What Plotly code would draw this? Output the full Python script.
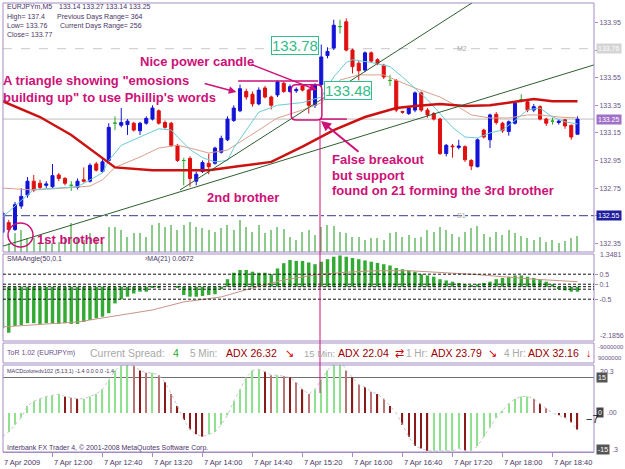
import plotly.graph_objects as go

# ---------------- data ----------------
bar_index = list(range(93))
time_tick_bars = [0, 8, 16, 24, 32, 40, 48, 56, 64, 72, 80, 88]
time_tick_labels = ["7 Apr 2009", "7 Apr 12:00", "7 Apr 12:40", "7 Apr 13:20", "7 Apr 14:00",
                    "7 Apr 14:40", "7 Apr 15:20", "7 Apr 16:00", "7 Apr 16:40", "7 Apr 17:20",
                    "7 Apr 18:00", "7 Apr 18:40"]

opens = [132.43, 132.50, 132.45, 132.62, 132.70, 132.80, 132.785, 132.77, 132.76, 132.845,
         132.82, 132.77, 132.755, 132.81, 132.80, 132.925, 132.87, 132.95, 133.22, 133.205,
         133.21, 133.22, 133.165, 133.22, 133.25, 133.31, 133.225, 133.22, 133.06, 132.95,
         132.965, 132.80, 132.87, 132.93, 132.93, 133.01, 133.10, 133.24, 133.31, 133.45,
         133.43, 133.36, 133.475, 133.41, 133.425, 133.51, 133.45, 133.455, 133.49, 133.46,
         133.35, 133.50, 133.71, 133.765, 133.92, 133.955, 133.75, 133.655, 133.605, 133.73,
         133.68, 133.64, 133.53, 133.53, 133.305, 133.29, 133.315, 133.44, 133.315, 133.29,
         133.25, 133.00, 133.055, 133.045, 133.05, 132.95, 132.905, 133.17, 133.10, 133.285,
         133.22, 133.16, 133.22, 133.39, 133.375, 133.315, 133.34, 133.25, 133.235, 133.225,
         133.245, 133.205, 133.14]
highs = [132.60, 132.52, 132.65, 132.75, 132.83, 132.845, 132.81, 132.80, 132.925, 132.86,
         132.83, 132.80, 132.82, 132.90, 132.93, 132.94, 132.96, 133.22, 133.27, 133.33,
         133.25, 133.23, 133.23, 133.27, 133.35, 133.32, 133.24, 133.23, 133.07, 132.97,
         132.98, 132.87, 132.95, 133.00, 133.05, 133.13, 133.27, 133.35, 133.50, 133.47,
         133.45, 133.48, 133.49, 133.42, 133.53, 133.52, 133.50, 133.48, 133.50, 133.47,
         133.51, 133.79, 133.77, 133.97, 133.97, 133.98, 133.76, 133.67, 133.74, 133.74,
         133.69, 133.65, 133.57, 133.54, 133.31, 133.34, 133.45, 133.45, 133.33, 133.30,
         133.26, 133.07, 133.07, 133.10, 133.06, 132.96, 133.11, 133.18, 133.29, 133.30,
         133.23, 133.24, 133.38, 133.43, 133.39, 133.36, 133.35, 133.26, 133.26, 133.25,
         133.25, 133.21, 133.27]
lows = [132.40, 132.43, 132.44, 132.60, 132.68, 132.72, 132.74, 132.75, 132.75, 132.80,
        132.77, 132.73, 132.74, 132.79, 132.79, 132.87, 132.86, 132.94, 133.17, 133.19,
        133.135, 133.16, 133.135, 133.21, 133.24, 133.21, 133.18, 133.05, 132.94, 132.77,
        132.76, 132.77, 132.86, 132.85, 132.92, 133.00, 133.09, 133.23, 133.30, 133.39,
        133.34, 133.35, 133.40, 133.32, 133.41, 133.44, 133.44, 133.44, 133.45, 133.29,
        133.33, 133.48, 133.69, 133.75, 133.87, 133.74, 133.58, 133.53, 133.59, 133.66,
        133.64, 133.54, 133.49, 133.30, 133.29, 133.28, 133.30, 133.30, 133.26, 133.24,
        132.99, 132.98, 132.97, 133.03, 132.94, 132.88, 132.90, 133.11, 133.04, 133.21,
        133.15, 133.13, 133.21, 133.37, 133.30, 133.30, 133.24, 133.20, 133.21, 133.21,
        133.18, 133.10, 133.14]
closes = [132.57, 132.45, 132.63, 132.69, 132.80, 132.735, 132.755, 132.78, 132.84, 132.82,
          132.785, 132.77, 132.80, 132.80, 132.915, 132.88, 132.94, 133.19, 133.22, 133.225,
          133.235, 133.17, 133.22, 133.255, 133.33, 133.22, 133.19, 133.06, 132.95, 132.95,
          132.82, 132.85, 132.935, 132.905, 133.04, 133.11, 133.25, 133.33, 133.47, 133.41,
          133.36, 133.46, 133.41, 133.35, 133.52, 133.45, 133.485, 133.465, 133.46, 133.35,
          133.50, 133.70, 133.74, 133.93, 133.92, 133.75, 133.63, 133.60, 133.73, 133.67,
          133.655, 133.555, 133.53, 133.315, 133.30, 133.33, 133.44, 133.315, 133.28, 133.25,
          133.00, 133.06, 133.05, 133.055, 132.955, 132.91, 133.10, 133.12, 133.28, 133.225,
          133.165, 133.23, 133.365, 133.39, 133.315, 133.34, 133.25, 133.22, 133.235, 133.235,
          133.20, 133.12, 133.25]
volumes = [12, 9, 19, 22, 14, 14, 10, 12, 9, 10,
           15, 29, 14, 12, 19, 15, 10, 25, 25, 22,
           15, 19, 19, 15, 27, 29, 25, 27, 22, 27,
           30, 25, 24, 22, 20, 24, 27, 22, 32, 25,
           20, 27, 19, 22, 25, 23, 15, 12, 20, 22,
           17, 25, 27, 26, 20, 19, 15, 15, 12, 14,
           14, 12, 19, 20, 15, 17, 14, 15, 22, 20,
           25, 22, 18, 15, 20, 24, 26, 18, 15, 20,
           17, 22, 19, 16, 14, 12, 15, 10, 12, 9,
           11, 14, 16]

ma_red_bars = [0, 6, 11, 16, 18, 24, 33, 38, 43, 48, 53, 58, 63, 66, 70, 74, 78, 82, 85, 88, 92]
ma_red_vals = [133.38, 133.265, 133.135, 132.97, 132.90, 132.88, 132.88, 132.91, 132.94, 133.05,
               133.17, 133.265, 133.33, 133.345, 133.36, 133.345, 133.35, 133.375, 133.395, 133.38, 133.38]
ma_cyan_bars = [0, 3, 5, 12, 16, 17, 19, 22, 25, 27, 28, 30, 32, 34, 36, 37, 39, 41, 44, 48,
                51, 53, 55, 56, 59, 62, 64, 66, 68, 70, 72, 74, 76, 78, 80, 82, 84, 86, 88, 90, 92]
ma_cyan_vals = [132.54, 132.66, 132.74, 132.76, 132.86, 132.95, 133.06, 133.12, 133.18, 133.17,
                133.12, 133.03, 132.97, 132.94, 132.95, 133.04, 133.17, 133.30, 133.35, 133.37,
                133.41, 133.555, 133.66, 133.68, 133.66, 133.63, 133.555, 133.475, 133.39, 133.29,
                133.19, 133.12, 133.113, 133.15, 133.17, 133.24, 133.316, 133.33, 133.265, 133.23, 133.215]
ma_salmon_bars = [0, 5, 10, 14, 16, 18, 22, 25, 28, 30, 33, 36, 41, 44, 48, 51, 54, 57, 61, 64,
                  66, 70, 73, 75, 78, 81, 84, 86, 89, 92]
ma_salmon_vals = [132.75, 132.736, 132.75, 132.765, 132.81, 132.90, 132.975, 133.04, 133.06, 133.04,
                  133.004, 133.026, 133.17, 133.258, 133.316, 133.367, 133.533, 133.57, 133.57, 133.51,
                  133.475, 133.41, 133.337, 133.28, 133.258, 133.258, 133.28, 133.28, 133.265, 133.258]

# trend lines: (bar0, price0, bar1, price1)
trend_lines = [(-0.4, 132.323, 94.6, 133.642), (28.4, 132.736, 75.1, 134.091)]
bid_price = 133.25
pivot_levels = {"M2": 133.76, "S1": 132.55}
price_ticks = [132.35, 132.55, 132.75, 132.95, 133.15, 133.35, 133.55, 133.75, 133.95]

sma_angle = [-1.66, -1.84, -1.57, -1.53, -1.46, -1.46, -1.49, -1.46, -1.46, -1.49,
             -1.46, -1.49, -1.49, -1.41, -1.33, -1.26, -1.20, -1.06, -0.67, -0.50,
             -0.40, -0.27, -0.20, -0.20, -0.05, -0.02, 0.0, 0.0, -0.02, -0.33,
             -0.40, -0.40, -0.37, -0.33, -0.30, -0.10, 0.30, 0.56, 0.67, 0.67,
             0.60, 0.56, 0.56, 0.50, 0.73, 0.94, 1.07, 1.03, 1.03, 0.97,
             0.90, 1.00, 1.10, 1.20, 1.25, 1.20, 1.15, 1.10, 1.05, 1.00,
             0.95, 0.90, 0.85, 0.75, 0.70, 0.65, 0.60, 0.50, 0.45, 0.40,
             0.30, 0.25, 0.20, 0.15, 0.10, 0.05, 0.10, 0.15, 0.20, 0.30,
             0.35, 0.40, 0.45, 0.45, 0.40, 0.35, 0.30, 0.20, 0.10, -0.10,
             -0.15, -0.20, -0.20]
sma_ma_bars = [0, 12, 24, 29, 35, 40, 45, 50, 55, 60, 65, 70, 75, 80, 85, 92]
sma_ma_vals = [-1.61, -1.41, -0.93, -0.61, -0.41, -0.05, 0.27, 0.47, 0.58, 0.64, 0.64, 0.58, 0.50, 0.40, 0.30, 0.20]
sma_levels = [0.5, 0.1, 0.0, -0.1, -0.5]
sma_ticks = [0.5, 0.1, -0.5]

macd = [-10, -8, -5, -2, 3, 5, 6, 7, 7.5, 8,
        7, 6.5, 6, 6, 7, 8, 10, 14, 18, 20,
        20.5, 20, 18, 17, 17, 16, 13, 8, 3, -3,
        -7, -9, -10, -9, -8, -5, -1, 5, 10, 15,
        18, 18.5, 17.5, 16, 16, 15.5, 15, 13, 10, 8,
        10, 14, 18, 21, 23, 18, 15, 12, 11, 9,
        8, 6, 3, 0, -5, -10, -14, -15, -16, -16,
        -16, -16, -16, -15, -16, -16, -14, -10, -6, -2,
        1, 4, 6, 7, 7, 6, 4, 2, 0, -1,
        -2, -4, -7]
macd_level = 15

# ---------------- helpers (pixel layout -> paper) ----------------
def py(px):
    return (452 - px) / 449.0

def pxx(px):
    return (px - 3) / 591.0

FONT = "Liberation Sans"
MAG = "#CC1177"
BORDER = "#A48BC4"
TXT = "#4A3566"
AXT = "#6A5488"

fig = go.Figure()

# volume
fig.add_trace(go.Bar(x=bar_index, y=volumes, yaxis="y5", width=0.18,
                     marker=dict(color="#8CCB8C", line=dict(width=0)), hoverinfo="skip"))
# moving averages
fig.add_trace(go.Scatter(x=ma_salmon_bars, y=ma_salmon_vals, mode="lines",
                         line=dict(color="#D9A08C", width=1), hoverinfo="skip"))
fig.add_trace(go.Scatter(x=ma_cyan_bars, y=ma_cyan_vals, mode="lines",
                         line=dict(color="#6CCBD6", width=1), hoverinfo="skip"))
fig.add_trace(go.Scatter(x=ma_red_bars, y=ma_red_vals, mode="lines",
                         line=dict(color="#CC1111", width=2.5), hoverinfo="skip"))

# candles
norm = [i for i in bar_index if opens[i] != closes[i]]
doji = [i for i in bar_index if opens[i] == closes[i]]
fig.add_trace(go.Candlestick(
    x=norm, open=[opens[i] for i in norm], high=[highs[i] for i in norm],
    low=[lows[i] for i in norm], close=[closes[i] for i in norm],
    increasing=dict(line=dict(color="#1414D8", width=1), fillcolor="#1414D8"),
    decreasing=dict(line=dict(color="#E01010", width=1), fillcolor="#E01010"),
    whiskerwidth=0, hoverinfo="skip"))
fig.add_trace(go.Candlestick(
    x=doji, open=[opens[i] for i in doji], high=[highs[i] for i in doji],
    low=[lows[i] for i in doji], close=[closes[i] for i in doji],
    increasing=dict(line=dict(color="#22AA22", width=1), fillcolor="#22AA22"),
    decreasing=dict(line=dict(color="#22AA22", width=1), fillcolor="#22AA22"),
    whiskerwidth=0, hoverinfo="skip"))

# SMA angle panel
fig.add_trace(go.Bar(x=bar_index, y=sma_angle, yaxis="y2", width=0.55,
                     marker=dict(color="#33AA33", line=dict(width=0)), hoverinfo="skip"))
fig.add_trace(go.Scatter(x=sma_ma_bars, y=sma_ma_vals, yaxis="y2", mode="lines",
                         line=dict(color="#C89484", width=1), hoverinfo="skip"))

# MACD panel
macd_colors = []
for i, v in enumerate(macd):
    prev = macd[i - 1] if i > 0 else v - 1
    if v >= prev:
        macd_colors.append("#8FE08F")
    elif v > 0:
        macd_colors.append("#B97474" if i % 2 else "#8B1A1A")
    else:
        macd_colors.append("#8B1A1A")
fig.add_trace(go.Bar(x=bar_index, y=macd, yaxis="y4", width=0.2,
                     marker=dict(color=macd_colors, line=dict(width=0)), hoverinfo="skip"))
fig.add_trace(go.Scatter(x=bar_index, y=macd, yaxis="y4", mode="lines",
                         line=dict(color="#C8C8C8", width=1, dash="dot"), hoverinfo="skip"))

# ---------------- shapes ----------------
shapes = []
for top, bot in [(3, 252), (254, 341), (343, 363), (365, 452)]:
    shapes.append(dict(type="rect", xref="paper", yref="paper", x0=0, x1=1, y0=py(bot), y1=py(top),
                       line=dict(color=BORDER, width=1), layer="above"))
shapes.append(dict(type="line", xref="paper", yref="y", x0=0, x1=1, y0=bid_price, y1=bid_price,
                   line=dict(color="#BDBDBD", width=1), layer="below"))
shapes.append(dict(type="line", xref="paper", yref="y", x0=0, x1=1, y0=pivot_levels["M2"], y1=pivot_levels["M2"],
                   line=dict(color="#C8C8C8", width=1, dash="dash"), layer="below"))
shapes.append(dict(type="line", xref="paper", yref="y", x0=0, x1=1, y0=pivot_levels["S1"], y1=pivot_levels["S1"],
                   line=dict(color="#3A3A8A", width=1, dash="dashdot"), layer="below"))
for b0, p0, b1, p1 in trend_lines:
    shapes.append(dict(type="line", xref="x", yref="y", x0=b0, y0=p0, x1=b1, y1=p1,
                       line=dict(color="#2F5F2F", width=1)))
for lv in sma_levels:
    shapes.append(dict(type="line", xref="paper", yref="y2", x0=0, x1=1, y0=lv, y1=lv,
                       line=dict(color="#111111", width=1, dash="3px,2px"), layer="above"))
shapes.append(dict(type="line", xref="paper", yref="y4", x0=0, x1=1, y0=macd_level, y1=macd_level,
                   line=dict(color="#707070", width=1), layer="below"))
shapes.append(dict(type="line", xref="x", yref="y", x0=37.7, x1=50.5, y0=133.526, y1=133.526,
                   line=dict(color=MAG, width=1.5)))
rx0, rx1, ry0, ry1, cx, cy = 46.2, 51.1, 133.243, 133.498, 0.8, 0.035
path = (f"M {rx0+cx},{ry0} L {rx1-cx},{ry0} Q {rx1},{ry0} {rx1},{ry0+cy} L {rx1},{ry1-cy} "
        f"Q {rx1},{ry1} {rx1-cx},{ry1} L {rx0+cx},{ry1} Q {rx0},{ry1} {rx0},{ry1-cy} "
        f"L {rx0},{ry0+cy} Q {rx0},{ry0} {rx0+cx},{ry0} Z")
shapes.append(dict(type="path", xref="x", yref="y", path=path, line=dict(color=MAG, width=1.5)))
shapes.append(dict(type="line", xref="x", yref="y", x0=50.8, x1=55.1, y0=133.25, y1=133.25,
                   line=dict(color=MAG, width=1.5)))
shapes.append(dict(type="line", xref="x", yref="paper", x0=50.8, x1=50.8, y0=py(393), y1=py(120),
                   line=dict(color=MAG, width=1)))
shapes.append(dict(type="circle", xref="x", yref="y", x0=0.88, x1=4.88, y0=132.323, y1=132.497,
                   line=dict(color=MAG, width=1.5)))

# ---------------- annotations ----------------
ann = []
def txt(text, x, y, size=7, color=TXT, xref="paper", yref="paper", xanchor="left", **kw):
    d = dict(text=text, x=x, y=y, xref=xref, yref=yref, xanchor=xanchor, yanchor="middle",
             showarrow=False, font=dict(family=FONT, size=size, color=color))
    d.update(kw)
    ann.append(d)

txt("EURJPYm,M5", pxx(5), py(7))
txt("133.14 133.27 133.14 133.25", pxx(57), py(7))
txt("High= 137.4", pxx(5), py(17))
txt("Previous Days Range= 364", pxx(55), py(17))
txt("Low= 133.76", pxx(5), py(26))
txt("Current Days Range= 256", pxx(58), py(26))
txt("Close= 133.77", pxx(5), py(35))

def box(text, yv, yref, bg, fc="white", xs=2):
    ann.append(dict(text=text, x=1, y=yv, xref="paper", yref=yref, xanchor="left", yanchor="middle",
                    xshift=xs, showarrow=False, bgcolor=bg, borderpad=1,
                    font=dict(family=FONT, size=7, color=fc)))
box("133.76", pivot_levels["M2"], "y", "#D4D4D4")
box(f"{bid_price:.2f}", bid_price, "y", "#A070C8")
box(f"{pivot_levels['S1']:.2f}", pivot_levels["S1"], "y", "#1E1E9E")

txt("M2", 72.4, pivot_levels["M2"], size=7, color="#A8A8A8", xref="x", yref="y")
txt("S1", 72.4, pivot_levels["S1"], size=7, color="#A8A8A8", xref="x", yref="y")

def note(text, x, y, xref="x"):
    txt("<b>" + text + "</b>", x, y, size=13, color=MAG, xref=xref, yref="y")
note("Nice power candle", 21.7, 133.664)
note("A triangle showing \"emosions", pxx(1), 133.533, xref="paper")
note("building up\" to use Phillip's words", pxx(1), 133.41, xref="paper")
note("1st brother", 5.2, 132.381)
note("2nd brother", 32.4, 132.685)
note("False breakout", 52.4, 132.954)
note("but support", 52.4, 132.838)
note("found on 21 forming the 3rd brother", 52.4, 132.729)

def arrow(x0, y0, x1, y1, w=1.5):
    ann.append(dict(text="", x=x1, y=y1, ax=x0, ay=y0, xref="x", yref="y", axref="x", ayref="y",
                    showarrow=True, arrowhead=2, arrowsize=1, arrowwidth=w, arrowcolor=MAG))
arrow(32.1, 133.51, 37.4, 133.446)
arrow(39.6, 133.65, 50.3, 133.46)
arrow(57.2, 133.004, 50.96, 133.236, w=2)

for text, x, y in [("133.78", 46.8, 133.78), ("133.48", 55.2, 133.46)]:
    ann.append(dict(text=text, x=x, y=y, xref="x", yref="y", xanchor="center", yanchor="middle",
                    showarrow=False, bgcolor="white", bordercolor="#33BB88", borderwidth=1, borderpad=0,
                    font=dict(family=FONT, size=15, color="#33BB88")))

txt("SMAAngle(50,0.1", pxx(5), py(259))
txt("›MA(21) 0.0672", pxx(143), py(259))
txt("1.3481", 1, py(254), color=AXT, xshift=4)
txt("-2.1856", 1, py(336), color=AXT, xshift=4)

tor_y = py(353)
txt("ToR 1.02 (EURJPYm)", pxx(5), tor_y, size=7, color="#6A4E8C")
txt("Current Spread:", pxx(88), tor_y, size=10.5, color="#A8A8A8")
txt("4", pxx(171), tor_y, size=10.5, color="#22AA22")
txt("5 Min:", pxx(188), tor_y, size=10, color="#A8A8A8")
txt("ADX 26.32", pxx(224), tor_y, size=10.5, color="#990000")
txt("↘", pxx(283), tor_y, size=10.5, color="#CC0000")
txt("15 Min:", pxx(302), tor_y, size=9.5, color="#A8A8A8")
txt("ADX 22.04", pxx(336), tor_y, size=10.5, color="#990000")
txt("⇄", pxx(393), tor_y, size=10.5, color="#CC0000")
txt("1 Hr:", pxx(404), tor_y, size=10, color="#A8A8A8")
txt("ADX 23.79", pxx(429), tor_y, size=10.5, color="#990000")
txt("↘", pxx(486), tor_y, size=10.5, color="#CC0000")
txt("4 Hr:", pxx(502), tor_y, size=10, color="#A8A8A8")
txt("ADX 32.16", pxx(526), tor_y, size=10.5, color="#990000")
txt("↓", pxx(584), tor_y, size=10.5, color="#DD0000")
txt("-9000000", 1, py(347), size=6, color=AXT, xshift=2)
txt("9000000", 1, py(358), size=6, color=AXT, xshift=2)

txt("MACDcoloredv102 (5,13,1) -1.4 0.0 0.0 -1.4", pxx(5), py(371), size=5.5)
txt("20.3", 1, py(371), color=AXT, xshift=4)
box("15", macd_level, "y4", "#555555")
box("0", 0, "y4", "#444444")
txt(".00", 1, 0, color=AXT, yref="y4", xshift=11)
box("-15", -15.3, "y4", "#555555")
txt(".3", 1, -15.3, color=AXT, yref="y4", xshift=16)
txt("−7", pxx(584), -2.5, size=11, color="#111111", yref="y4")

txt("Interbank FX Trader 4, © 2001-2008 MetaQuotes Software Corp.", pxx(5), py(448), color=TXT)
for b, lab in zip(time_tick_bars, time_tick_labels):
    if b == 0:
        txt(lab, pxx(2), py(462), size=7.5, color=TXT)
    else:
        txt(lab, b, py(462), size=7.5, color=TXT, xref="x", xshift=-1)

ax_common = dict(showgrid=False, zeroline=False, fixedrange=True)
fig.update_layout(
    width=625, height=469, margin=dict(l=3, r=31, t=3, b=17),
    paper_bgcolor="white", plot_bgcolor="white", showlegend=False,
    barmode="overlay", shapes=shapes, annotations=ann,
    xaxis=dict(range=[0.08, 94.64], anchor="y4", showline=True, linecolor=BORDER,
               ticks="outside", ticklen=4, tickcolor=BORDER, tickvals=time_tick_bars,
               showticklabels=False, rangeslider=dict(visible=False), **ax_common),
    yaxis=dict(domain=[py(252), py(3)], range=[132.287, 134.091], side="right", anchor="x",
               tickvals=price_ticks, ticktext=[f"{p:.2f}" for p in price_ticks],
               ticks="outside", ticklen=3, tickcolor=BORDER,
               tickfont=dict(family=FONT, size=7, color=AXT), **ax_common),
    yaxis2=dict(domain=[py(341), py(254)], range=[-2.172, 1.308], side="right", anchor="x",
                tickvals=sma_ticks, ticktext=[f"{t:.1f}" for t in sma_ticks],
                ticks="outside", ticklen=3, tickcolor=BORDER,
                tickfont=dict(family=FONT, size=7, color=AXT), **ax_common),
    yaxis3=dict(domain=[py(363), py(343)], range=[0, 1], side="right", anchor="x",
                showticklabels=False, ticks="", **ax_common),
    yaxis4=dict(domain=[py(452), py(365)], range=[-16.5, 20.3], side="right", anchor="x",
                showticklabels=False, ticks="", **ax_common),
    yaxis5=dict(overlaying="y", range=[0, 249], side="right", anchor="x", visible=False, **ax_common),
)

fig.write_html("out.html")
